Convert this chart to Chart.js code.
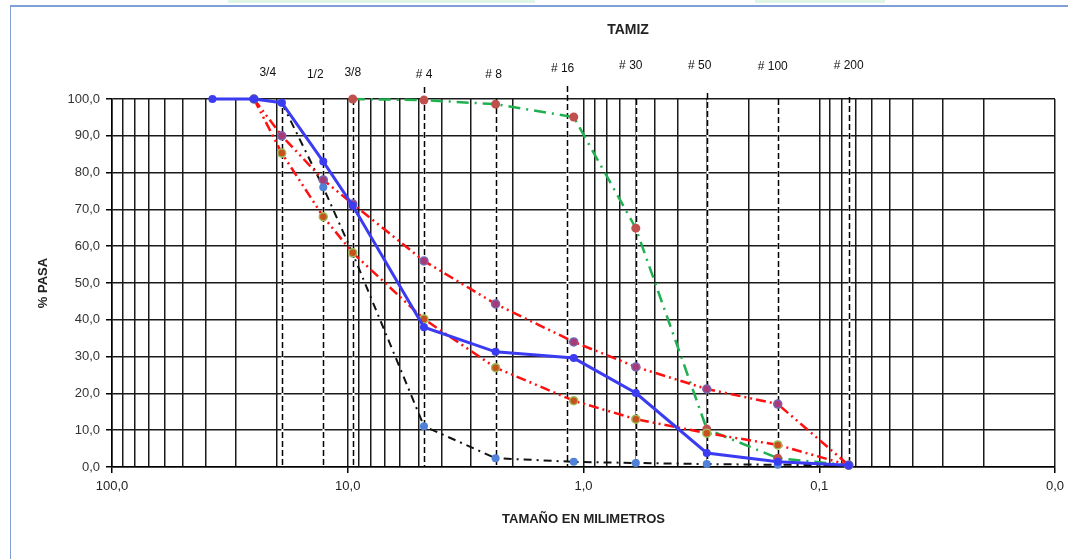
<!DOCTYPE html>
<html>
<head>
<meta charset="utf-8">
<script src="https://cdn.jsdelivr.net/npm/chart.js@4/dist/chart.umd.min.js"></script>
<style>
  body { margin: 0; background: #fff; }
  #wrap { position: relative; width: 1068px; height: 559px; overflow: hidden; }
  .strip { position: absolute; top: 0; height: 3px; background: #dff5e6; }
  #frameTop { position: absolute; left: 10px; top: 5px; right: 0; height: 2px; background: #7f9fd6; }
  #frameLeft { position: absolute; left: 10px; top: 5px; bottom: 0; width: 1px; background: #7f9fd6; }
  canvas { position: absolute; left: 0; top: 0; }
</style>
</head>
<body>
<div id="wrap">
  <div class="strip" style="left:228px;width:307px"></div>
  <div class="strip" style="left:755px;width:130px"></div>
  <div id="frameTop"></div>
  <div id="frameLeft"></div>
  <canvas id="myChart" width="1068" height="559"></canvas>
</div>
<script>
// Tamaños de malla (mm) de los puntos de cada curva
const tamanos = [37.5, 25, 19.05, 12.7, 9.525, 4.75, 2.36, 1.1, 0.6, 0.3, 0.15, 0.075];

// % que pasa, una lista por curva (null = sin dato)
const pasaAzul     = [100, 100, 99, 83, 71, 38, 31.3, 29.6, 20.1, 3.8, 1.4, 0.5];
const pasaRojaSup  = [null, 100, 90, 78, 71.5, 56, 44.3, 34, 27.2, 21.2, 17.1, 0.5];
const pasaRojaInf  = [null, 100, 85.3, 68, 58.2, 40.2, 27, 18, 13, 9.2, 6, 0.5];
const pasaNegra    = [null, null, 99, 76, 58, 11.1, 2.4, 1.4, 1.1, 0.8, 0.6, 0.5];
const pasaVerde    = [null, null, null, null, 100, 99.7, 98.6, 95.1, 64.9, 10.3, 2.4, 0.5];

// Tamices (líneas verticales de referencia)
const tamices = ['3/4', '1/2', '3/8', '# 4', '# 8', '# 16', '# 30', '# 50', '# 100', '# 200'];
const aberturas = [19.05, 12.7, 9.525, 4.75, 2.36, 1.18, 0.6, 0.3, 0.15, 0.075];

// Etiquetas del eje Y
const yTicks = [0, 10, 20, 30, 40, 50, 60, 70, 80, 90, 100];

function puntos(valores) {
  let out = [];
  valores.forEach((v, i) => {
    if (v !== null) out.push({x: tamanos[i], y: v});
  });
  return out;
}

function esMayor(v) {
  let l = Math.log10(v);
  return Math.abs(l - Math.round(l)) < 1e-9;
}

function coma(v) {
  return v.toFixed(1).replace('.', ',');
}

// valores de la rejilla logarítmica (1..9 por década)
let xGrid = [];
for (let e = -2; e <= 1; e++) {
  for (let k = 1; k <= 9; k++) {
    xGrid.push(Number((k * Math.pow(10, e)).toPrecision(3)));
  }
}
xGrid.push(100);

// Plugin: líneas de tamices, sus etiquetas y el título TAMIZ
const tamizPlugin = {
  id: 'tamiz',
  beforeDatasetsDraw(chart) {
    const ctx = chart.ctx;
    const area = chart.chartArea;
    const x = chart.scales.x;
    const topExtra = [0, 0, 0, 12, 0, 13, 0, 6, 0, 2];
    ctx.save();
    aberturas.forEach((a, i) => {
      let px = Math.round(x.getPixelForValue(a)) + 0.5;
      let top = area.top - topExtra[i];
      ctx.setLineDash([]);
      ctx.strokeStyle = '#ffffff';
      ctx.lineWidth = 2;
      ctx.beginPath();
      ctx.moveTo(px, area.top + 1);
      ctx.lineTo(px, area.bottom - 1);
      ctx.stroke();
      ctx.setLineDash([6, 3]);
      ctx.strokeStyle = '#000000';
      ctx.lineWidth = 1.5;
      ctx.beginPath();
      ctx.moveTo(px, top);
      ctx.lineTo(px, area.bottom);
      ctx.stroke();
    });
    ctx.restore();
  },
  afterDraw(chart) {
    const ctx = chart.ctx;
    const x = chart.scales.x;
    const dx = [-14, -8, 0, 0, -2, -4, -5, -7, -5, 0];
    const ly = [73, 75, 73, 75, 75, 69, 66, 66, 67, 66];
    ctx.save();
    ctx.fillStyle = '#111';
    ctx.textAlign = 'center';
    ctx.textBaseline = 'middle';
    ctx.font = '12px "Liberation Sans Narrow", "Liberation Sans", Arial, sans-serif';
    tamices.forEach((t, i) => {
      ctx.fillText(t, x.getPixelForValue(aberturas[i]) + dx[i], ly[i]);
    });
    ctx.font = 'bold 14px "Liberation Sans", Arial, sans-serif';
    ctx.fillStyle = '#222';
    ctx.fillText('TAMIZ', 628, 30);
    ctx.restore();
  }
};

const lineaRoja = [10, 4, 2, 4, 2, 4];

const config = {
  type: 'line',
  data: {
    datasets: [
      {
        label: 'Curva azul',
        data: puntos(pasaAzul),
        borderColor: '#3b3bf2',
        backgroundColor: '#3b3bf2',
        borderWidth: 3,
        pointRadius: 4,
        pointBorderWidth: 0,
        clip: false,
        tension: 0
      },
      {
        label: 'Roja superior',
        data: puntos(pasaRojaSup),
        borderColor: '#ff1010',
        borderWidth: 2.5,
        borderDash: lineaRoja,
        pointBackgroundColor: '#a83a78',
        pointBorderColor: '#7a66b0',
        pointBorderWidth: 1.5,
        pointRadius: 4,
        clip: false,
        tension: 0
      },
      {
        label: 'Roja inferior',
        data: puntos(pasaRojaInf),
        borderColor: '#ff1010',
        borderWidth: 2.5,
        borderDash: lineaRoja,
        pointBackgroundColor: '#c8501c',
        pointBorderColor: '#9bbb59',
        pointBorderWidth: 1.5,
        pointRadius: 4,
        clip: false,
        tension: 0
      },
      {
        label: 'Negra',
        data: puntos(pasaNegra),
        borderColor: '#111111',
        borderWidth: 2,
        borderDash: [8, 5, 2, 5],
        pointBackgroundColor: '#4f81d8',
        pointBorderColor: '#4f81d8',
        pointBorderWidth: 0,
        pointRadius: 4,
        clip: false,
        tension: 0
      },
      {
        label: 'Verde',
        data: puntos(pasaVerde),
        borderColor: '#1fb050',
        borderWidth: 2.5,
        borderDash: [12, 6, 2, 6],
        pointBackgroundColor: '#c0504d',
        pointBorderColor: '#c0504d',
        pointBorderWidth: 0,
        pointRadius: 4.5,
        clip: false,
        tension: 0
      }
    ]
  },
  options: {
    responsive: false,
    animation: false,
    layout: { padding: { top: 99, right: 13, bottom: 0, left: 20 } },
    plugins: {
      legend: { display: false },
      tooltip: { enabled: false }
    },
    scales: {
      x: {
        type: 'logarithmic',
        reverse: true,
        min: 0.01,
        max: 100,
        afterBuildTicks: (scale) => {
          scale.ticks = xGrid.map(v => ({value: v, major: esMayor(v)}));
        },
        afterFit: (scale) => { scale.height = 92; },
        border: { color: '#000', width: 1.5 },
        grid: {
          color: '#1a1a1a',
          lineWidth: 1.5,
          tickLength: 6,
          tickColor: (c) => (c.tick && esMayor(c.tick.value)) ? '#000' : 'rgba(0,0,0,0)'
        },
        ticks: {
          autoSkip: false,
          maxRotation: 0,
          padding: 6,
          color: '#222',
          font: { family: '"Liberation Sans", Arial, sans-serif', size: 13 },
          callback: (v) => esMayor(v) ? coma(v) : ''
        },
        title: {
          display: true,
          text: 'TAMAÑO EN MILIMETROS',
          color: '#222',
          font: { family: '"Liberation Sans", Arial, sans-serif', size: 13, weight: 'bold' },
          padding: { top: 0, bottom: 32 }
        }
      },
      y: {
        min: 0,
        max: 100,
        afterBuildTicks: (scale) => {
          scale.ticks = yTicks.map(v => ({value: v}));
        },
        afterFit: (scale) => { scale.width = 92; },
        border: { color: '#000', width: 1.5 },
        grid: {
          color: '#1a1a1a',
          lineWidth: 1.5,
          tickLength: 6,
          tickColor: '#000'
        },
        ticks: {
          padding: 6,
          color: '#333',
          font: { family: '"Liberation Sans", Arial, sans-serif', size: 13 },
          callback: (v) => coma(v)
        },
        title: {
          display: true,
          text: '% PASA',
          color: '#222',
          font: { family: '"Liberation Sans", Arial, sans-serif', size: 13, weight: 'bold' },
          padding: { top: 16, bottom: 0 }
        }
      }
    }
  },
  plugins: [tamizPlugin]
};

let myChart = new Chart(document.getElementById('myChart'), config);
</script>
</body>
</html>
